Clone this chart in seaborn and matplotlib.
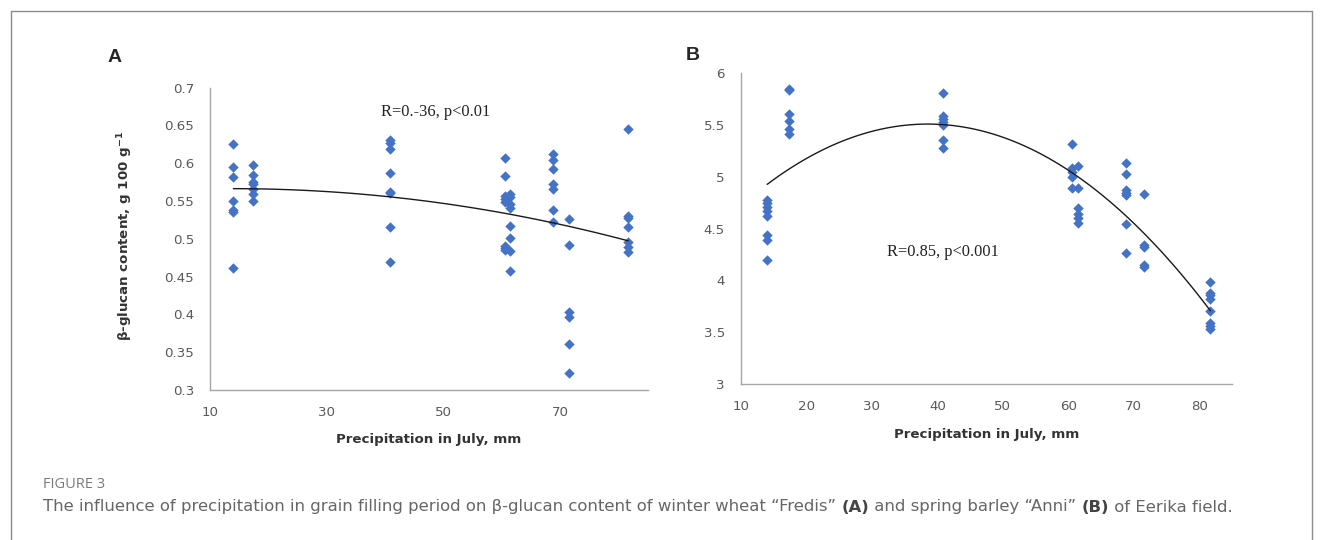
import numpy as np
import pandas as pd
import matplotlib
matplotlib.use("Agg")
import matplotlib.pyplot as plt
import seaborn as sns
from matplotlib.lines import Line2D
from matplotlib.ticker import FuncFormatter

# ---------------- data ----------------
precip_mm = [14.0, 17.4, 40.8, 60.6, 61.5, 68.8, 71.5, 81.7]

wheat_fredis = [
    [0.625, 0.595, 0.581, 0.550, 0.538, 0.536, 0.461],
    [0.597, 0.584, 0.575, 0.572, 0.566, 0.559, 0.550],
    [0.630, 0.627, 0.619, 0.587, 0.562, 0.560, 0.515, 0.469],
    [0.607, 0.583, 0.557, 0.553, 0.549, 0.491, 0.488, 0.485],
    [0.559, 0.555, 0.546, 0.541, 0.517, 0.501, 0.484, 0.458],
    [0.612, 0.604, 0.592, 0.572, 0.566, 0.538, 0.522],
    [0.526, 0.492, 0.403, 0.397, 0.361, 0.322],
    [0.645, 0.530, 0.527, 0.515, 0.496, 0.489, 0.482],
]

barley_anni = [
    [4.78, 4.745, 4.706, 4.674, 4.626, 4.439, 4.391, 4.198],
    [5.849, 5.839, 5.607, 5.540, 5.459, 5.411],
    [5.813, 5.588, 5.556, 5.533, 5.501, 5.356, 5.276],
    [5.318, 5.083, 5.050, 4.996, 4.890],
    [5.105, 4.890, 4.697, 4.642, 4.600, 4.552],
    [5.131, 5.025, 4.874, 4.842, 4.826, 4.545, 4.263],
    [4.832, 4.343, 4.320, 4.150, 4.133],
    [3.983, 3.882, 3.860, 3.821, 3.709, 3.593, 3.561, 3.529],
]

ticks_x_a = [10, 30, 50, 70]
ticks_y_a = [0.3, 0.35, 0.4, 0.45, 0.5, 0.55, 0.6, 0.65, 0.7]
ticks_x_b = [10, 20, 30, 40, 50, 60, 70, 80]
ticks_y_b = [3, 3.5, 4, 4.5, 5, 5.5, 6]

xlabel_text = "Precipitation in July, mm"
ylabel_a = "β-glucan content, g 100 g$^{\\mathbf{-1}}$"
annot_a = "R=0.-36, p<0.01"
annot_b = "R=0.85, p<0.001"


def to_frame(levels, groups):
    rows = []
    for lvl, vals in zip(levels, groups):
        for v in vals:
            rows.append((lvl, v))
    return pd.DataFrame(rows, columns=["precip", "value"])


df_a = to_frame(precip_mm, wheat_fredis)
df_b = to_frame(precip_mm, barley_anni)

# ---------------- style ----------------
sns.set_style("white")
plt.rcParams["font.family"] = ["DejaVu Sans"]

W, H = 1322, 540
fig = plt.figure(figsize=(W / 100, H / 100), dpi=100)
fig.patch.set_facecolor("white")

axA = fig.add_axes([210 / W, 1 - 390 / H, 437.5 / W, 302.5 / H])
axB = fig.add_axes([741 / W, 1 - 384 / H, 491 / W, 310.7 / H])

blue = "#4472C4"
spine_col = "#a6a6a6"
tick_lab_col = "#595959"
fmt = FuncFormatter(lambda v, p: f"{v:g}")

for ax, df in ((axA, df_a), (axB, df_b)):
    sns.scatterplot(data=df, x="precip", y="value", ax=ax, marker="D",
                    s=28, color=blue, edgecolor=blue, linewidth=0, zorder=3)
    sns.regplot(data=df, x="precip", y="value", ax=ax, order=2, ci=None,
                scatter=False, truncate=True,
                line_kws=dict(color="#1a1a1a", lw=1.0, zorder=4))
    for s in ("top", "right"):
        ax.spines[s].set_visible(False)
    for s in ("left", "bottom"):
        ax.spines[s].set_color(spine_col)
        ax.spines[s].set_linewidth(1.0)
    ax.tick_params(axis="both", direction="out", length=3.6, width=0.8,
                   color=spine_col, labelsize=9.6, labelcolor=tick_lab_col,
                   pad=8.0)
    ax.yaxis.set_major_formatter(fmt)
    ax.xaxis.set_major_formatter(fmt)
    ax.grid(False)
    ax.set_facecolor("white")

axA.set_xlim(10, 85)
axA.set_ylim(0.3, 0.7)
axA.set_xticks(ticks_x_a)
axA.set_yticks(ticks_y_a)
axB.set_xlim(10, 85)
axB.set_ylim(3, 6)
axB.set_xticks(ticks_x_b)
axB.set_yticks(ticks_y_b)

lab_kw = dict(fontsize=9.6, fontweight="bold", color="#333333")
axA.set_xlabel(xlabel_text, **lab_kw)
axA.xaxis.set_label_coords(0.5, -0.142)
axB.set_xlabel(xlabel_text, **lab_kw)
axB.xaxis.set_label_coords(0.5, -0.141)
axA.set_ylabel(ylabel_a, **lab_kw)
axA.yaxis.set_label_coords(-0.172, 0.51)
axB.set_ylabel("")

axA.text(48.6, 0.667, annot_a, family="Liberation Serif", fontsize=11.8,
         color="#222222", ha="center", va="center")
axB.text(40.8, 4.278, annot_b, family="Liberation Serif", fontsize=11.8,
         color="#222222", ha="center", va="center")

fig.text(115 / W, 1 - 57 / H, "A", family="Liberation Sans", fontsize=14,
         fontweight="bold", ha="center", va="center")
fig.text(693 / W, 1 - 55 / H, "B", family="Liberation Sans", fontsize=14,
         fontweight="bold", ha="center", va="center")

# frame around the figure
frame_col = "#8c8c8c"
fx0, fx1, fy1 = 10.5 / W, 1311.5 / W, 1 - 10.5 / H
for xs, ys in (([fx0, fx0], [0, fy1]), ([fx0, fx1], [fy1, fy1]),
               ([fx1, fx1], [fy1, 0])):
    fig.add_artist(Line2D(xs, ys, transform=fig.transFigure,
                          color=frame_col, lw=1.0))

# caption
fig.text(43 / W, 1 - 485 / H, "FIGURE 3", family="Open Sans", fontsize=10.5,
         color="#7a7a7a", ha="left", va="center")

cap_parts = [
    ("The influence of precipitation in grain filling period on β-glucan content of winter wheat “Fredis” ", "normal"),
    ("(A)", "bold"),
    (" and spring barley “Anni” ", "normal"),
    ("(B)", "bold"),
    (" of Eerika field.", "normal"),
]
renderer = fig.canvas.get_renderer()
xpos = 43.0
for txt, wt in cap_parts:
    t = fig.text(xpos / W, 1 - 507 / H, txt, family="DejaVu Sans",
                 fontsize=11.85, fontweight=wt,
                 color="#666666" if wt == "normal" else "#444444",
                 ha="left", va="center")
    bb = t.get_window_extent(renderer=renderer)
    xpos += bb.width

fig.savefig("out.png", dpi=100, facecolor="white")
